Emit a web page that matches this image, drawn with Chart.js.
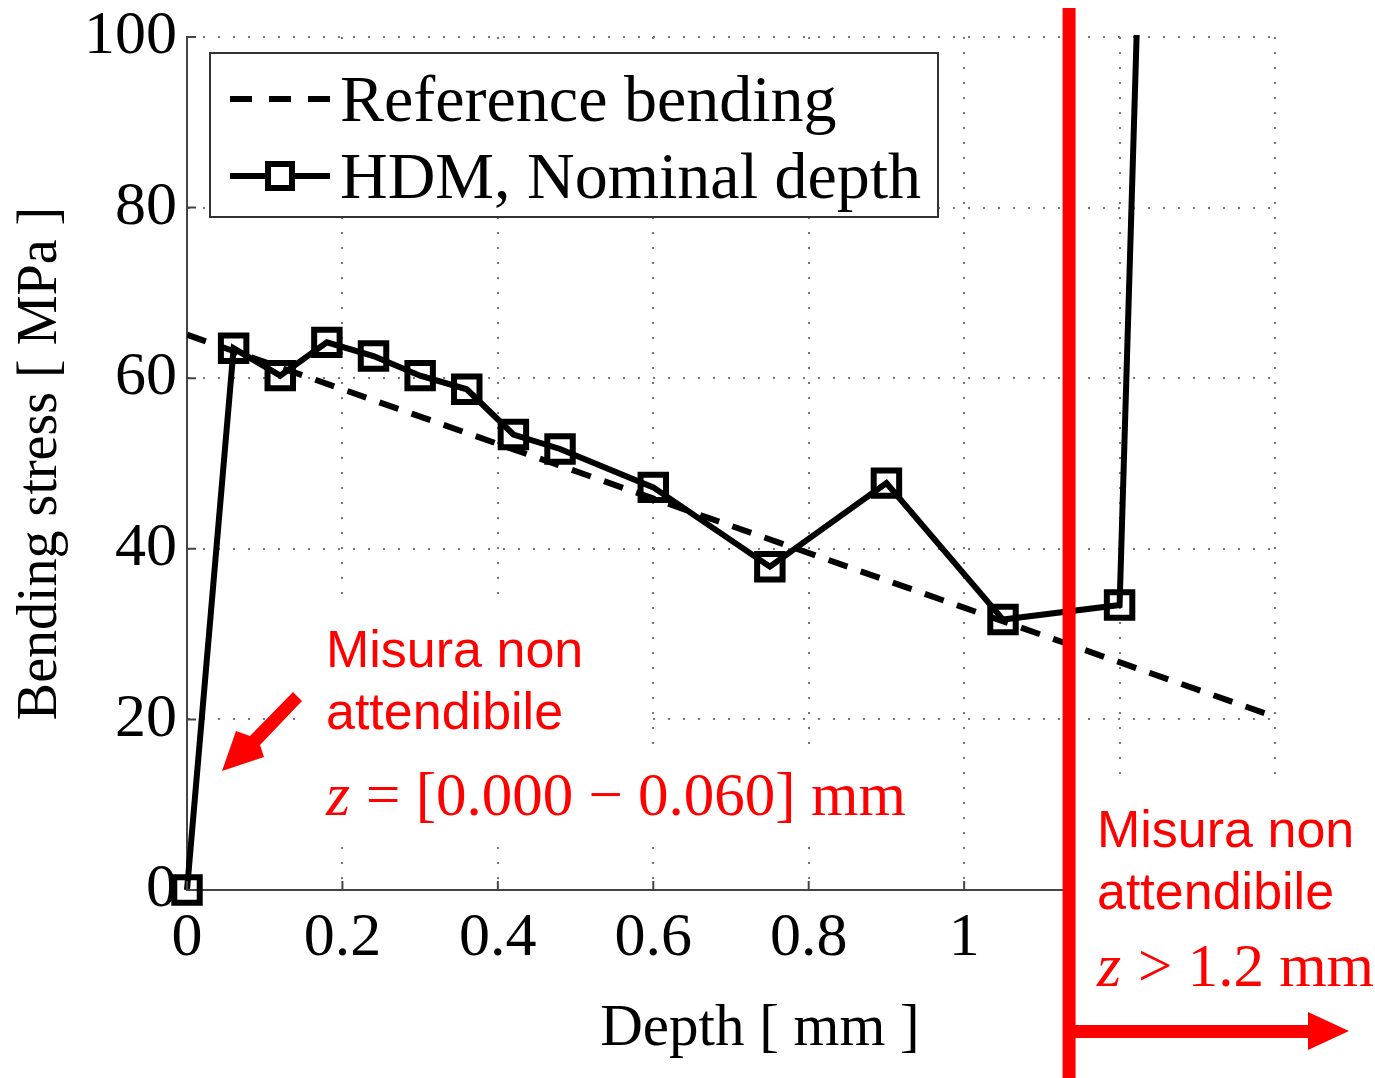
<!DOCTYPE html>
<html>
<head>
<meta charset="utf-8">
<script src="https://cdn.jsdelivr.net/npm/chart.js@4.4.1/dist/chart.umd.min.js"></script>
<style>
  html, body { margin: 0; padding: 0; background: #fff; }
  #wrap { width: 1375px; height: 1078px; }
</style>
</head>
<body>
<div id="wrap"><canvas id="bendingChart" width="1375" height="1078"></canvas></div>
<script>
// measured points, HDM at nominal depth
const depthHdm = [0, 0.06, 0.12, 0.18, 0.24, 0.30, 0.36, 0.42, 0.48, 0.60, 0.75, 0.90, 1.05, 1.20, 1.35];
const stressHdm = [0, 63.5, 60.3, 64.2, 62.6, 60.3, 58.7, 53.4, 51.7, 47.2, 37.9, 47.7, 31.7, 33.4, 490];
// reference bending (straight line)
const depthRef = [0, 1.4];
const stressRef = [65.1, 20.3];
// axis ticks
const xTicks = [0, 0.2, 0.4, 0.6, 0.8, 1, 1.2, 1.4];
const yTicks = [0, 20, 40, 60, 80, 100];
// depth of the red cut line
const cutoffDepth = 1.135;
const xTitle = 'Depth [ mm ]';

const serif = '"Liberation Serif", "Times New Roman", serif';
const sans = '"Liberation Sans", Arial, sans-serif';

function toPoints(xs, ys) {
    return xs.map((x, i) => ({ x: x, y: ys[i] }));
}

const annotations = {
    id: 'annotations',
    afterDatasetsDraw(chart) {
        const ctx = chart.ctx;
        const xs = chart.scales.x;
        const ys = chart.scales.y;
        const area = chart.chartArea;
        ctx.save();

        // small inward tick marks
        ctx.strokeStyle = '#444';
        ctx.lineWidth = 2;
        ctx.beginPath();
        yTicks.forEach(v => {
            const py = ys.getPixelForValue(v);
            ctx.moveTo(area.left, py);
            ctx.lineTo(area.left + 9, py);
        });
        xTicks.forEach(v => {
            const px = xs.getPixelForValue(v);
            ctx.moveTo(px, area.bottom);
            ctx.lineTo(px, area.bottom - 9);
        });
        ctx.stroke();

        // x axis title, a bit right of centre like the original
        ctx.fillStyle = '#000';
        ctx.font = '59px ' + serif;
        ctx.textAlign = 'center';
        ctx.textBaseline = 'alphabetic';
        ctx.fillText(xTitle, 760, 1045);

        // white patches behind the red notes
        const cut = xs.getPixelForValue(cutoffDepth);
        ctx.fillStyle = '#fff';
        ctx.fillRect(300, 605, 340, 150);
        ctx.fillRect(318, 755, 592, 92);
        ctx.fillRect(cut, 785, 1375 - cut, 1078 - 785);

        // red vertical cut line
        ctx.fillStyle = '#ff0000';
        ctx.fillRect(cut - 6.5, 8, 13, 1078 - 8);

        // horizontal arrow to the right
        ctx.fillRect(cut, 1025, 1308 - cut, 13);
        ctx.beginPath();
        ctx.moveTo(1308, 1012);
        ctx.lineTo(1349, 1031);
        ctx.lineTo(1308, 1050);
        ctx.closePath();
        ctx.fill();

        // diagonal arrow pointing to the first point
        ctx.beginPath();
        ctx.moveTo(293, 692);
        ctx.lineTo(302, 701);
        ctx.lineTo(260, 745);
        ctx.lineTo(264, 757);
        ctx.lineTo(222, 771);
        ctx.lineTo(236, 731);
        ctx.lineTo(250, 736);
        ctx.closePath();
        ctx.fill();

        // red notes
        ctx.textAlign = 'left';
        ctx.font = '52px ' + sans;
        ctx.fillText('Misura non', 326, 667);
        ctx.fillText('attendibile', 326, 729);
        ctx.fillText('Misura non', 1097, 847);
        ctx.fillText('attendibile', 1097, 909);

        ctx.font = 'italic 62px ' + serif;
        ctx.fillText('z', 326, 815);
        ctx.font = '61px ' + serif;
        ctx.fillText('= [0.000 \u2212 0.060] mm', 366, 815);

        ctx.font = 'italic 62px ' + serif;
        ctx.fillText('z', 1097, 986);
        ctx.font = '61px ' + serif;
        ctx.fillText('> 1.2 mm', 1138, 986);
        ctx.restore();
    },
    afterDraw(chart) {
        // legend box inside the plot
        const ctx = chart.ctx;
        const sets = chart.data.datasets;
        ctx.save();
        ctx.fillStyle = '#fff';
        ctx.fillRect(210, 53, 728, 164);
        ctx.strokeStyle = '#333';
        ctx.lineWidth = 2;
        ctx.strokeRect(210, 53, 728, 164);

        ctx.strokeStyle = '#000';
        ctx.lineWidth = 6;
        ctx.setLineDash([22, 17]);
        ctx.beginPath();
        ctx.moveTo(230, 99);
        ctx.lineTo(330, 99);
        ctx.stroke();
        ctx.setLineDash([]);

        ctx.lineWidth = 6;
        ctx.beginPath();
        ctx.moveTo(230, 176);
        ctx.lineTo(330, 176);
        ctx.stroke();
        ctx.fillStyle = '#fff';
        ctx.fillRect(268, 164, 24, 24);
        ctx.strokeRect(268, 164, 24, 24);

        ctx.fillStyle = '#000';
        ctx.font = '66px ' + serif;
        ctx.textBaseline = 'alphabetic';
        ctx.fillText(sets[0].label, 340, 121);
        ctx.fillText(sets[1].label, 340, 198);
        ctx.restore();
    }
};

new Chart(document.getElementById('bendingChart'), {
    type: 'line',
    data: {
        datasets: [{
            label: 'Reference bending',
            data: toPoints(depthRef, stressRef),
            borderColor: '#000',
            borderWidth: 6,
            borderDash: [20, 14],
            pointRadius: 0,
            fill: false,
            tension: 0
        },
        {
            label: 'HDM, Nominal depth',
            data: toPoints(depthHdm, stressHdm),
            borderColor: '#000',
            borderWidth: 6,
            pointStyle: 'rect',
            pointRadius: 18,
            pointBorderWidth: 6,
            pointBorderColor: '#000',
            pointBackgroundColor: 'rgba(0,0,0,0)',
            fill: false,
            tension: 0,
            clip: { left: 30, top: 2, right: 0, bottom: 30 }
        }]
    },
    options: {
        responsive: false,
        animation: false,
        layout: { padding: { left: 0, top: 37, right: 100, bottom: 0 } },
        plugins: {
            legend: { display: false },
            tooltip: { enabled: false }
        },
        scales: {
            x: {
                type: 'linear',
                min: 0,
                max: 1.4,
                afterFit: s => {
                    s.height = 188;
                    s.paddingLeft = 0;
                    s.paddingRight = 0;
                },
                afterBuildTicks: s => { s.ticks = xTicks.map(v => ({ value: v })); },
                ticks: {
                    color: '#000',
                    padding: 12,
                    maxRotation: 0,
                    font: { family: serif, size: 62 },
                    callback: v => (v > 1.05 ? '' : String(Math.round(v * 10) / 10))
                },
                grid: { color: '#777', lineWidth: 2, drawTicks: false },
                border: { display: true, color: '#444', width: 2, dash: [2, 13] }
            },
            y: {
                min: 0,
                max: 100,
                afterFit: s => {
                    s.width = 187;
                    s.paddingTop = 0;
                    s.paddingBottom = 0;
                },
                afterBuildTicks: s => { s.ticks = yTicks.map(v => ({ value: v })); },
                ticks: {
                    color: '#000',
                    padding: 10,
                    font: { family: serif, size: 62 }
                },
                grid: { color: '#777', lineWidth: 2, drawTicks: false },
                border: { display: true, color: '#444', width: 2, dash: [2, 13] },
                title: {
                    display: true,
                    text: 'Bending stress [ MPa ]',
                    color: '#000',
                    font: { family: serif, size: 56 },
                    padding: { top: 8, bottom: 0 }
                }
            }
        }
    },
    plugins: [annotations]
});
</script>
</body>
</html>
